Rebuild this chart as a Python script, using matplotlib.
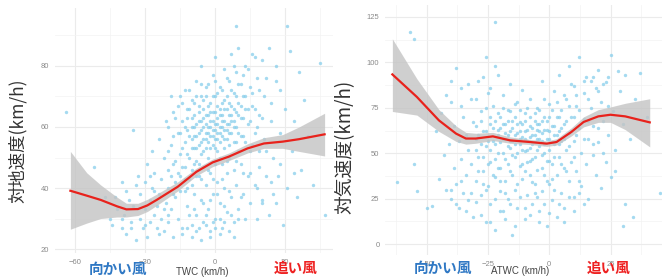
import matplotlib.pyplot as plt

plt.rcParams['font.family'] = ['Liberation Sans', 'Noto Sans CJK JP', 'DejaVu Sans']

# --- left panel: ground speed vs tail wind component ---
twc_x = [-64, -52, -47, -45, -44, -42, -40, -40, -39, -38, -37, -36, -35, -35, -34, -33, -32, -32, -31, -30,
         -30, -29, -29, -28, -28, -27, -27, -26, -26, -25, -25, -24, -24, -23, -23, -22, -22, -21, -21, -20,
         -20, -20, -19, -19, -18, -18, -18, -17, -17, -16, -16, -15, -15, -15, -14, -14, -13, -13, -13, -12,
         -12, -12, -11, -11, -11, -10, -10, -10, -10, -9, -9, -9, -9, -8, -8, -8, -8, -7, -7, -7,
         -7, -6, -6, -6, -6, -6, -5, -5, -5, -5, -5, -4, -4, -4, -4, -4, -3, -3, -3, -3,
         -3, -2, -2, -2, -2, -2, -1, -1, -1, -1, -1, 0, 0, 0, 0, 0, 0, 1, 1, 1,
         1, 1, 2, 2, 2, 2, 2, 3, 3, 3, 3, 3, 4, 4, 4, 4, 4, 5, 5, 5,
         5, 5, 6, 6, 6, 6, 7, 7, 7, 7, 8, 8, 8, 8, 9, 9, 9, 9, 10, 10,
         10, 10, 11, 11, 11, 12, 12, 12, 13, 13, 13, 14, 14, 15, 15, 15, 16, 16, 17, 17,
         18, 18, 19, 19, 20, 20, 21, 21, 22, 23, 23, 24, 25, 25, 26, 27, 28, 29, 30, 31,
         32, 33, 35, 37, 38, 40, 42, 45, 47, 31, 9, 55,
         -20, -20, -19, -19, -18, -18, -17, -17, -16, -16, -15, -15, -14, -14, -14, -13, -13, -13, -12, -12,
         -12, -11, -11, -11, -10, -10, -10, -10, -9, -9, -9, -9, -8, -8, -8, -8, -7, -7, -7, -7,
         -6, -6, -6, -6, -5, -5, -5, -5, -4, -4, -4, -4, -3, -3, -3, -3, -2, -2, -2, -2,
         -1, -1, -1, -1, -1, 0, 0, 0, 0, 1, 1, 1, 1, 2, 2, 2, 2, 3, 3, 3,
         3, 4, 4, 4, 4, 5, 5, 5, 5, 6, 6, 6, 6, 7, 7, 7, 7, 8, 8, 8,
         8, 9, 9, 9, 10, 10, 10, 11, 11, 11, 12, 12, 12, 13, 13, 14, 14, 15, 15, 16,
         16, 17, 17, 18, 18, 19, 19, 20, 20, 22, 22, 24, 24, 26, 26, 28, 28, 34, 34, 36,
         -14, -12, -10, -8, -6, -4, -2, 0, 2, 4, 6, 8, 10, -20, -24, -30, -36, -40, -43, -38,
         -34, -28, -26, -22]
twc_y = [65, 47, 37, 30, 28, 33, 42, 27, 31, 25, 36, 29, 34, 59, 23, 44, 38, 30, 27, 42,
         33, 48, 24, 36, 29, 52, 40, 31, 45, 34, 27, 56, 38, 43, 30, 50, 26, 35, 62, 46,
         40, 29, 54, 33, 65, 48, 24, 42, 37, 58, 30, 70, 51, 44, 27, 62, 55, 39, 47, 66,
         34, 59, 50, 43, 72, 56, 28, 63, 46, 60, 38, 53, 68, 57, 49, 31, 75, 62, 54, 44,
         65, 59, 51, 36, 70, 80, 63, 56, 47, 29, 66, 58, 61, 53, 41, 73, 60, 55, 64, 33,
         50, 57, 62, 68, 45, 26, 59, 54, 65, 38, 77, 61, 56, 70, 48, 30, 83, 58, 63, 52,
         67, 42, 60, 55, 73, 35, 64, 57, 62, 48, 68, 27, 59, 66, 53, 79, 40, 61, 56, 70,
         32, 45, 64, 58, 75, 50, 62, 67, 37, 84, 60, 71, 46, 29, 65, 55, 78, 41, 68, 58,
         33, 86, 63, 74, 48, 70, 38, 57, 66, 80, 30, 61, 44, 73, 52, 35, 84, 67, 58, 41,
         76, 30, 64, 47, 82, 36, 56, 70, 44, 86, 31, 62, 50, 38, 75, 44, 58, 28, 66, 40,
         85, 52, 37, 46, 69, 57, 41, 81, 31, 93, 93, 81,
         52, 60, 44, 70, 57, 38, 63, 49, 45, 67, 58, 39, 53, 68, 47, 60, 72, 43, 51, 63,
         40, 57, 66, 31, 53, 69, 41, 60, 64, 48, 57, 33, 61, 70, 53, 44, 58, 67, 48, 27,
         62, 55, 74, 43, 60, 69, 52, 35, 64, 56, 70, 31, 58, 67, 46, 74, 60, 53, 65, 36,
         62, 57, 70, 43, 29, 59, 65, 53, 75, 61, 56, 71, 38, 58, 66, 50, 30, 64, 60, 72,
         43, 62, 56, 69, 34, 66, 59, 76, 49, 61, 68, 54, 39, 64, 58, 72, 31, 66, 62, 55,
         80, 60, 70, 49, 64, 74, 52, 67, 57, 37, 63, 77, 45, 70, 55, 66, 79, 62, 45, 71,
         54, 66, 83, 60, 40, 72, 52, 63, 35, 76, 52, 68, 42, 80, 35, 48, 72, 62, 45, 78,
         25, 27, 24, 26, 23, 28, 24, 27, 25, 29, 26, 24, 30, 31, 25, 28, 27, 30, 37, 39,
         41, 44, 39, 33]

# loess fit and confidence band (left)
twc_fit_x = [-62, -55, -49, -42, -38, -33, -29, -25, -16, -8, -1, 6, 14, 21, 29, 36, 47]
twc_fit = [39.1, 37.5, 36.1, 34.0, 33.0, 33.1, 34.3, 36.1, 40.4, 45.3, 48.4, 50.3, 53.0, 54.6, 55.2, 56.0, 57.6]
twc_lo = [26.5, 28.5, 30.0, 30.5, 30.5, 31.0, 32.3, 34.3, 39.0, 44.0, 47.0, 49.0, 51.5, 53.0, 53.0, 52.0, 50.5]
twc_hi = [52.0, 45.0, 41.0, 37.0, 35.0, 35.0, 36.3, 38.0, 42.0, 46.5, 49.5, 51.5, 54.5, 56.5, 57.5, 60.0, 64.5]

# --- right panel: air speed vs air tail wind component ---
atwc_x = [-62, -57, -55, -55, -54, -50, -48, -46, -45, -44, -43, -42, -41, -40, -40, -39, -39, -38, -38, -37,
          -37, -36, -36, -35, -35, -34, -34, -33, -33, -32, -32, -31, -31, -30, -30, -29, -29, -28, -28, -27,
          -27, -26, -26, -26, -25, -25, -24, -24, -24, -23, -23, -22, -22, -22, -21, -21, -21, -20, -20, -20,
          -19, -19, -19, -18, -18, -18, -17, -17, -17, -16, -16, -16, -15, -15, -15, -14, -14, -14, -13, -13,
          -13, -12, -12, -12, -11, -11, -11, -10, -10, -10, -10, -9, -9, -9, -8, -8, -8, -8, -7, -7,
          -7, -6, -6, -6, -5, -5, -5, -5, -4, -4, -4, -3, -3, -3, -3, -2, -2, -2, -1, -1,
          -1, 0, 0, 0, 0, 1, 1, 1, 2, 2, 2, 3, 3, 3, 4, 4, 4, 5, 5, 5,
          6, 6, 6, 7, 7, 8, 8, 8, 9, 9, 10, 10, 10, 11, 11, 12, 12, 13, 13, 14,
          14, 15, 15, 16, 16, 17, 17, 18, 18, 19, 19, 20, 20, 21, 21, 22, 23, 23, 24, 25,
          25, 26, 27, 28, 29, 30, 31, 31, 33, 34, 35, 37, 40, 45, 30, 27,
          -30, -30, -29, -29, -28, -28, -27, -27, -26, -26, -25, -25, -24, -24, -23, -23, -22, -22, -22, -21,
          -21, -21, -20, -20, -20, -19, -19, -19, -18, -18, -18, -17, -17, -17, -16, -16, -16, -15, -15, -15,
          -14, -14, -14, -13, -13, -13, -12, -12, -12, -11, -11, -11, -10, -10, -10, -9, -9, -9, -8, -8,
          -8, -7, -7, -7, -6, -6, -6, -5, -5, -5, -4, -4, -4, -3, -3, -3, -2, -2, -2, -1,
          -1, -1, 0, 0, 0, 1, 1, 1, 2, 2, 3, 3, 4, 4, 5, 5, 6, 6, 7, 7,
          8, 8, 9, 9, 10, 10, 11, 11, 12, 12, 14, 14, 16, 16, 18, 18, 20, 20, 22, 22,
          24, 24,
          -40, -38, -36, -34, -32, -30, -28, -26, -24, -22, -20, -18, -16, -14, -12, -10, -8, -6, -4, -2,
          0, 2, 4, 6, 8, 10, 12, 14, -42, -40, -36, -33, -30, -27, -24, -22]
atwc_y = [34, 117, 113, 44, 29, 20, 21, 62, 36, 72, 49, 30, 55, 78, 25, 42, 65, 33, 97, 57,
          20, 47, 86, 28, 70, 38, 60, 52, 24, 80, 44, 15, 67, 35, 58, 90, 48, 27, 73, 62,
          40, 103, 12, 54, 32, 83, 66, 45, 22, 57, 76, 37, 122, 8, 63, 50, 93, 29, 70, 42,
          58, 18, 82, 47, 66, 35, 60, 74, 25, 53, 88, 40, 64, 5, 57, 30, 70, 48, 61, 78,
          20, 55, 43, 67, 36, 59, 85, 62, 51, 14, 72, 45, 57, 27, 65, 38, 53, 80, 60, 47,
          22, 68, 56, 33, 63, 41, 75, 52, 58, 18, 66, 49, 61, 29, 90, 55, 70, 38, 63, 46,
          10, 58, 77, 33, 52, 65, 24, 44, 60, 84, 55, 70, 38, 15, 62, 48, 93, 57, 28, 74,
          66, 42, 20, 80, 52, 61, 35, 98, 70, 45, 87, 26, 57, 76, 40, 64, 103, 50, 32, 83,
          69, 44, 92, 58, 25, 75, 90, 49, 65, 86, 38, 96, 56, 78, 31, 68, 89, 45, 60, 104,
          37, 73, 52, 95, 84, 66, 22, 93, 58, 15, 80, 94, 70, 28, 10, 40,
          52, 65, 40, 60, 55, 68, 48, 33, 62, 75, 57, 44, 52, 70, 64, 38, 55, 68, 47, 60,
          72, 42, 56, 64, 35, 66, 50, 75, 58, 61, 28, 54, 68, 44, 62, 57, 73, 49, 68, 38,
          60, 55, 77, 66, 50, 33, 58, 62, 74, 52, 66, 44, 58, 68, 40, 63, 52, 75, 59, 46,
          70, 64, 55, 34, 60, 72, 48, 58, 66, 26, 62, 54, 74, 57, 68, 42, 63, 50, 80, 58,
          68, 35, 62, 46, 70, 56, 74, 36, 65, 48, 60, 78, 55, 70, 64, 44, 58, 82, 68, 40,
          54, 76, 62, 88, 70, 48, 82, 60, 74, 35, 90, 58, 80, 68, 92, 55, 84, 64, 88, 50,
          76, 92,
          30, 22, 35, 18, 28, 23, 16, 30, 12, 25, 18, 14, 22, 10, 26, 20, 16, 28, 12, 22,
          17, 30, 22, 12, 26, 18, 28, 22, 82, 90, 76, 88, 80, 92, 86, 98]

atwc_fit_x = [-64, -54, -45, -38, -34, -30, -23, -16, -8, -1, 3, 9, 14, 20, 25, 31, 41]
atwc_fit = [93.4, 81.0, 68.1, 60.8, 58.1, 58.1, 59.3, 57.1, 56.2, 55.3, 56.2, 61.7, 67.2, 70.3, 71.2, 70.3, 67.0]
atwc_lo = [73.0, 71.0, 62.0, 56.5, 55.0, 55.5, 57.0, 55.5, 54.8, 53.8, 54.5, 59.5, 64.5, 67.0, 67.0, 63.0, 53.5]
atwc_hi = [113.0, 91.0, 74.0, 65.0, 61.5, 61.0, 61.5, 59.0, 57.6, 56.8, 58.0, 64.0, 70.0, 74.0, 75.5, 77.5, 80.0]

W, H = 662, 279
fig = plt.figure(figsize=(W / 100, H / 100), dpi=100)


def px_axes(x0, y0, x1, y1):
    # pixel box (top-left origin) -> figure axes
    return fig.add_axes([x0 / W, 1 - y1 / H, (x1 - x0) / W, (y1 - y0) / H])


def style(ax, xticks, yticks, xminor, yminor):
    ax.set_xticks(xticks)
    ax.set_yticks(yticks)
    ax.set_xticks(xminor, minor=True)
    ax.set_yticks(yminor, minor=True)
    ax.grid(True, which='major', color='#ebebeb', lw=0.8)
    ax.grid(True, which='minor', color='#f3f3f3', lw=0.5)
    ax.set_axisbelow(True)
    for s in ax.spines.values():
        s.set_visible(False)
    ax.tick_params(which='both', length=0, labelsize=5.5, labelcolor='#8a8a8a', pad=4)


def panel(ax, x, y, fx, fit, lo, hi):
    ax.scatter(x, y, s=6, color='#87ceeb', alpha=0.75, lw=0)
    ax.fill_between(fx, lo, hi, color='#c4c4c4', alpha=0.8, lw=0)
    ax.plot(fx, fit, color='#e8221c', lw=1.6)


ax1 = px_axes(55, 8, 333, 253)
panel(ax1, twc_x, twc_y, twc_fit_x, twc_fit, twc_lo, twc_hi)
ax1.set_xlim(-68.6, 50.6)
ax1.set_ylim(18.7, 99)
style(ax1, [-60, -30, 0, 30], [20, 40, 60, 80], [-45, -15, 15, 45], [30, 50, 70, 90])

ax2 = px_axes(385, 5, 662, 255)
panel(ax2, atwc_x, atwc_y, atwc_fit_x, atwc_fit, atwc_lo, atwc_hi)
ax2.set_xlim(-67, 46)
ax2.set_ylim(-6, 131.6)
style(ax2, [-50, -25, 0, 25], [0, 25, 50, 75, 100, 125], [-62.5, -37.5, -12.5, 12.5, 37.5],
      [12.5, 37.5, 62.5, 87.5, 112.5])


def ftext(x, y, s, **kw):
    fig.text(x / W, 1 - y / H, s, ha='center', va='center', **kw)


ftext(18, 141, '対地速度(km/h)', rotation=90, fontsize=12.5, color='#333333',
      family=['Noto Sans CJK JP', 'DejaVu Sans'])
ftext(345, 147, '対気速度(km/h)', rotation=90, fontsize=13.5, color='#333333',
      family=['Noto Sans CJK JP', 'DejaVu Sans'])

ftext(202, 272, 'TWC (km/h)', fontsize=7, color='#444444')
ftext(520, 271, 'ATWC (km/h)', fontsize=7, color='#444444')

for x, y, s, c in [(118, 269, '向かい風', '#2f78c4'), (296, 268, '追い風', '#ee2020'),
                   (443, 268, '向かい風', '#2f78c4'), (609, 268, '追い風', '#ee2020')]:
    ftext(x, y, s, fontsize=10.5, color=c, fontweight='bold',
          family=['Noto Sans CJK JP', 'DejaVu Sans'])

fig.savefig('out.png', dpi=100)
